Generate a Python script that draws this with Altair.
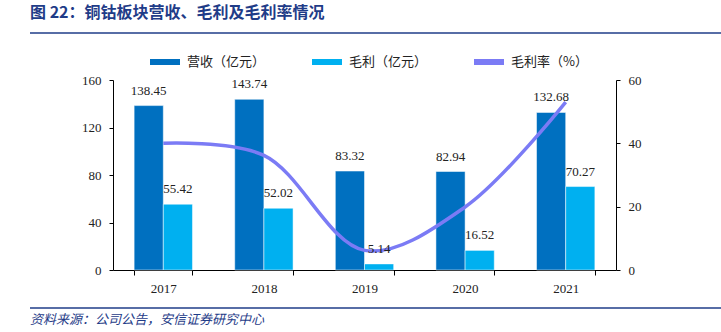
import altair as alt
import pandas as pd

years = ["2017", "2018", "2019", "2020", "2021"]
revenue = [138.45, 143.74, 83.32, 82.94, 132.68]
profit = [55.42, 52.02, 5.14, 16.52, 70.27]
margin = [40.0, 36.2, 6.2, 19.9, 53.0]
series_names = ["营收（亿元）", "毛利（亿元）", "毛利率（%）"]
series_colors = ["#0070C0", "#00B0F0", "#7B7BF5"]

title_text = "图 22：铜钴板块营收、毛利及毛利率情况"
source_text = "资料来源：公司公告，安信证券研究中心"

bar_df = pd.DataFrame(
    [{"year": y, "series": series_names[0], "value": v} for y, v in zip(years, revenue)]
    + [{"year": y, "series": series_names[1], "value": v} for y, v in zip(years, profit)]
)
rate_df = pd.DataFrame({"year": years, "series": series_names[2], "rate": margin})

SERIF = "Liberation Serif"
CJK = "Noto Sans CJK SC"
W, H = 503, 190

color = alt.Color(
    "series:N",
    scale=alt.Scale(domain=series_names, range=series_colors),
    legend=alt.Legend(
        title=None, orient="none", legendX=34, legendY=-36, direction="horizontal",
        symbolType="stroke", symbolStrokeWidth=6, symbolSize=900,
        labelFont=CJK, labelFontSize=13, labelColor="#222", columnPadding=34,
        symbolOffset=0, labelOffset=4,
    ),
)

xenc = alt.X(
    "year:N", sort=years, title=None,
    scale=alt.Scale(paddingInner=0.42, paddingOuter=0.21),
    axis=alt.Axis(labelAngle=0, tickBand="extent", tickSize=5, labelPadding=7,
                  domainColor="#000", tickColor="#000", labelFont=SERIF,
                  labelFontSize=13, labelColor="#222"),
)

bars = alt.Chart(bar_df).mark_bar(stroke="white", strokeWidth=0.5).encode(
    x=xenc,
    xOffset=alt.XOffset("series:N", sort=series_names[:2], scale=alt.Scale(paddingInner=0, paddingOuter=0)),
    y=alt.Y("value:Q", title=None, scale=alt.Scale(domain=[0, 160], nice=False),
            axis=alt.Axis(values=[0, 40, 80, 120, 160], grid=False, tickSize=4, labelPadding=8,
                          domainColor="#000", tickColor="#000", labelFont=SERIF,
                          labelFontSize=13, labelColor="#222")),
    color=color,
)
labels = alt.Chart(bar_df).mark_text(baseline="bottom", dy=-8, font=SERIF, fontSize=13, color="#222").encode(
    x=alt.X("year:N", sort=years),
    xOffset=alt.XOffset("series:N", sort=series_names[:2]),
    y=alt.Y("value:Q", scale=alt.Scale(domain=[0, 160], nice=False), axis=None),
    text=alt.Text("value:Q", format=".2f"),
)

line = alt.Chart(rate_df).mark_line(interpolate="catmull-rom", strokeWidth=3.5).encode(
    x=alt.X("year:N", sort=years),
    y=alt.Y("rate:Q", title=None, scale=alt.Scale(domain=[0, 60], nice=False),
            axis=alt.Axis(orient="right", values=[0, 20, 40, 60], grid=False, tickSize=4,
                          labelPadding=8, domainColor="#000", tickColor="#000",
                          labelFont=SERIF, labelFontSize=13, labelColor="#222")),
    color=color,
)

one = alt.Data(values=[{"k": 1}])
title = alt.Chart(one).mark_text(align="left", baseline="middle", font=CJK, fontSize=16,
                                 fontWeight="bold", color="#1F3C88").encode(
    x=alt.value(-83), y=alt.value(-67), text=alt.value(title_text))
source = alt.Chart(one).mark_text(align="left", baseline="middle", font=CJK, fontSize=13,
                                  fontStyle="italic", color="#1F3C88").encode(
    x=alt.value(-83), y=alt.value(240), text=alt.value(source_text))
top_rule = alt.Chart(one).mark_rule(color="#1F3C88", strokeWidth=1.5).encode(
    x=alt.value(-83), x2=alt.value(608), y=alt.value(-47))
bot_rule = alt.Chart(one).mark_rule(color="#1F3C88", strokeWidth=1.5).encode(
    x=alt.value(-83), x2=alt.value(608), y=alt.value(228))

chart = alt.layer(bars, line, labels, title, source, top_rule, bot_rule).resolve_scale(
    y="independent"
).properties(
    width=W, height=H,
    autosize=alt.AutoSizeParams(type="none"),
    padding={"left": 113, "top": 80, "right": 105, "bottom": 62},
    background="white",
).configure_view(strokeWidth=0)

chart.save("out.html", embed_options={"renderer": "svg", "actions": False})
